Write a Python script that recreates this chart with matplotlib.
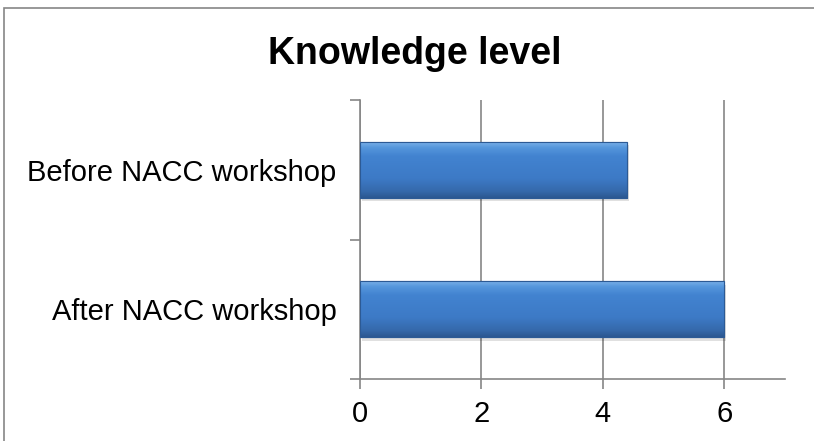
import matplotlib.pyplot as plt
import numpy as np
from matplotlib.colors import LinearSegmentedColormap
from matplotlib.patches import Rectangle

categories = ['After NACC workshop', 'Before NACC workshop']
values = [6.0, 4.4]
xticks = [0, 2, 4, 6]
title = 'Knowledge level'

plt.rcParams['font.family'] = ['Liberation Sans', 'DejaVu Sans']

fig = plt.figure(figsize=(8.14, 4.41), dpi=100)
ax = fig.add_axes([0.4423, 0.1406, 0.5221, 0.6326])

# outer chart frame (cut at right/bottom like the reference)
fig.patches.append(Rectangle((4 / 814, -0.05), 1.2, 1 - 8 / 441 + 0.05,
                             transform=fig.transFigure, fill=False,
                             edgecolor='#868686', lw=1.2))

grey = '#868686'
bar_h = 0.4
ypos = np.arange(len(categories))
bars = ax.barh(ypos, values, height=bar_h, color='#3f7cc6',
               edgecolor='#2c5a95', lw=0.8, zorder=3)

# Excel-like vertical gradient on each bar
cmap = LinearSegmentedColormap.from_list(
    'bev', [(0, '#2b5790'), (0.12, '#3569ab'), (0.35, '#3d7ac6'),
            (0.75, '#4283d0'), (0.9, '#5596dc'), (1, '#79b0e8')])
grad = np.linspace(0, 1, 256).reshape(-1, 1)
for b in bars:
    x0, y0, w, h = b.get_x(), b.get_y(), b.get_width(), b.get_height()
    im = ax.imshow(grad, cmap=cmap, aspect='auto', origin='lower',
                   extent=[x0, x0 + w, y0, y0 + h], zorder=3.5, interpolation='bicubic')
    im.set_clip_path(b)
    # shadow
    ax.add_patch(Rectangle((x0 + 0.03, y0 - 0.025), w, h, color='#000000',
                           alpha=0.12, lw=0, zorder=2.5))
    ax.add_patch(Rectangle((x0, y0), w, h, fill=False, edgecolor='#2c5a95',
                           lw=0.8, zorder=4))

ax.set_xlim(0, 7)
ax.set_ylim(-0.5, len(categories) - 0.5)
ax.set_xticks(xticks)
ax.set_xticklabels([str(t) for t in xticks], fontsize=21)
ax.set_yticks(ypos)
ax.set_yticklabels(categories, fontsize=21)
ax.set_yticks([-0.5, 0.5, 1.5], minor=True)
ax.tick_params(axis='y', which='major', length=0, pad=17)
ax.tick_params(axis='y', which='minor', length=7, color=grey, width=1.2)
ax.tick_params(axis='x', length=7, color=grey, width=1.2, pad=8)
ax.xaxis.grid(True, color=grey, lw=1.2, zorder=0)
ax.set_axisbelow(True)
for s in ['top', 'right']:
    ax.spines[s].set_visible(False)
for s in ['left', 'bottom']:
    ax.spines[s].set_color(grey)
    ax.spines[s].set_linewidth(1.2)

fig.text(0.51, 0.878, title, ha='center', va='center', fontsize=27, fontweight='bold')

fig.savefig('out.png', dpi=100)
